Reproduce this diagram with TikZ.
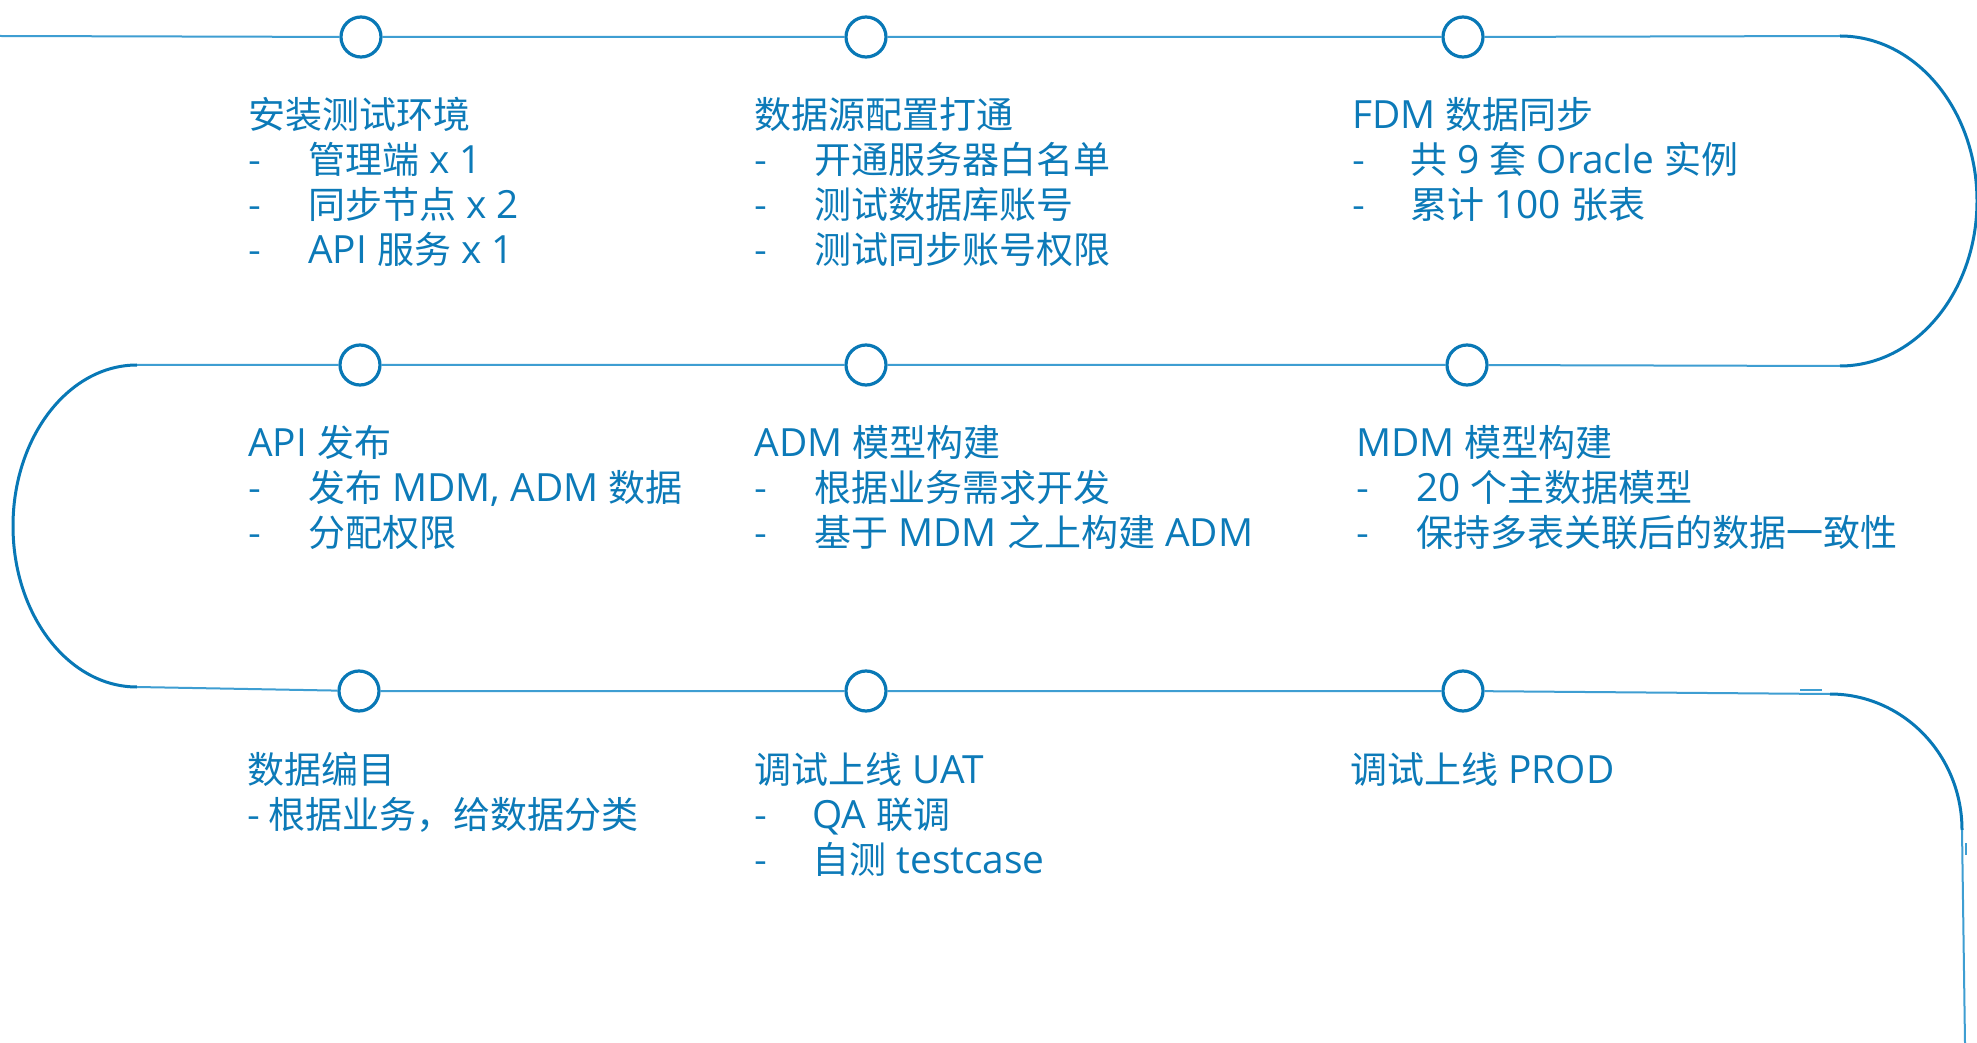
\documentclass[tikz,border=0pt]{standalone}
\usepackage{fontspec}
\setmainfont{Noto Sans CJK SC}
\newfontfamily\latfont[Scale=1.05]{Open Sans}
\newcommand\la[1]{{\latfont #1}}
\definecolor{tblue}{RGB}{12,122,184}
\definecolor{lblue}{RGB}{62,158,210}
\definecolor{dblue}{RGB}{8,120,182}
\begin{document}
\begin{tikzpicture}[x=0.5pt,y=-0.5pt,
  txt/.style={anchor=base west, inner sep=0, text=tblue, font=\fontsize{18.5pt}{22pt}\selectfont},
  dot/.style={circle, draw=dblue, line width=1.6pt, fill=white, minimum size=20pt, inner sep=0},
  link/.style={draw=lblue, line width=1pt},
  turnline/.style={draw=dblue, line width=1.5pt}]
\useasboundingbox[fill=white] (0,0) rectangle (1977,1043);

% milestone circles
\node[dot] (c11) at (361,37) {};
\node[dot] (c12) at (866,37) {};
\node[dot] (c13) at (1463,37) {};
\node[dot] (c21) at (360,365) {};
\node[dot] (c22) at (866,365) {};
\node[dot] (c23) at (1467,365) {};
\node[dot] (c31) at (359,691) {};
\node[dot] (c32) at (866,691) {};
\node[dot] (c33) at (1463,691) {};

% free ends
\coordinate (s1) at (0,36);
\coordinate (r1) at (1840,36);
\coordinate (l1) at (137,365);
\coordinate (r3) at (1830,694);
\coordinate (e1) at (1965,1043);

% row 1 and right turn
\draw[link] (s1) -- (c11) (c11) -- (c12) (c12) -- (c13) (c13) -- (r1);
\draw[turnline] (r1) arc[start angle=90, end angle=-90, x radius=68.5pt, y radius=82.5pt] coordinate (r2);
% row 2 and left turn
\draw[link] (r2) -- (c23) (c23) -- (c22) (c22) -- (c21) (c21) -- (l1);
\draw[turnline] (l1) arc[start angle=90, end angle=270, x radius=62pt, y radius=80.5pt] coordinate (l2);
% row 3 and final turn
\draw[link] (l2) -- (c31) (c31) -- (c32) (c32) -- (c33) (c33) -- (r3);
\draw[turnline] (r3) arc[start angle=90, end angle=0, x radius=66pt, y radius=68pt] coordinate (r4);
\draw[link] (r4) -- (e1);
% small stray strokes
\coordinate (k1) at (1800,690);
\coordinate (k2) at (1822,690);
\coordinate (k3) at (1966,843);
\coordinate (k4) at (1966,855);
\draw[link] (k1) -- (k2);
\draw[link] (k3) -- (k4);

% row 1 texts
\node[txt] (a1) at (248,129) {安装测试环境};
\node[txt] (a1d1) at (248,174) {-};
\node[txt] (a1t1) at (308,174) {管理端\la{ x 1}};
\node[txt] (a1d2) at (248,219) {-};
\node[txt] (a1t2) at (308,219) {同步节点\la{ x 2}};
\node[txt] (a1d3) at (248,264) {-};
\node[txt] (a1t3) at (308,264) {\la{API }服务\la{ x 1}};

\node[txt] (b1) at (754,129) {数据源配置打通};
\node[txt] (b1d1) at (754,174) {-};
\node[txt] (b1t1) at (814,174) {开通服务器白名单};
\node[txt] (b1d2) at (754,219) {-};
\node[txt] (b1t2) at (814,219) {测试数据库账号};
\node[txt] (b1d3) at (754,264) {-};
\node[txt] (b1t3) at (814,264) {测试同步账号权限};

\node[txt] (g1) at (1352,129) {\la{FDM }数据同步};
\node[txt] (g1d1) at (1352,174) {-};
\node[txt] (g1t1) at (1410,174) {共\la{ 9 }套\la{ Oracle }实例};
\node[txt] (g1d2) at (1352,219) {-};
\node[txt] (g1t2) at (1410,219) {累计\la{ 100 }张表};

% row 2 texts
\node[txt] (a2) at (248,457) {\la{API }发布};
\node[txt] (a2d1) at (248,502) {-};
\node[txt] (a2t1) at (308,502) {发布\la{ MDM, ADM }数据};
\node[txt] (a2d2) at (248,546) {-};
\node[txt] (a2t2) at (308,546) {分配权限};

\node[txt] (b2) at (754,457) {\la{ADM }模型构建};
\node[txt] (b2d1) at (754,502) {-};
\node[txt] (b2t1) at (814,502) {根据业务需求开发};
\node[txt] (b2d2) at (754,546) {-};
\node[txt] (b2t2) at (814,546) {基于\la{ MDM }之上构建\la{ ADM}};

\node[txt] (g2) at (1356,457) {\la{MDM }模型构建};
\node[txt] (g2d1) at (1356,502) {-};
\node[txt] (g2t1) at (1416,502) {\la{20 }个主数据模型};
\node[txt] (g2d2) at (1356,546) {-};
\node[txt] (g2t2) at (1416,546) {保持多表关联后的数据一致性};

% row 3 texts
\node[txt] (a3) at (247,783) {数据编目};
\node[txt] (a3t1) at (247,828) {- 根据业务，给数据分类};

\node[txt] (b3) at (754,783) {调试上线\la{ UAT}};
\node[txt] (b3d1) at (754,828) {-};
\node[txt] (b3t1) at (812,828) {\la{QA }联调};
\node[txt] (b3d2) at (754,873) {-};
\node[txt] (b3t2) at (812,873) {自测\la{ testcase}};

\node[txt] (g3) at (1350,783) {调试上线\la{ PROD}};
\end{tikzpicture}
\end{document}
